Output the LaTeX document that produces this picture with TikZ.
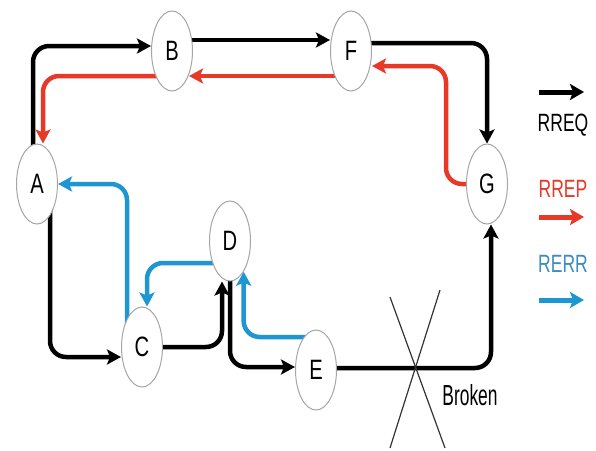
\documentclass[tikz,border=0pt]{standalone}
\usepackage{fontspec}
\setmainfont{Liberation Sans}
\usetikzlibrary{arrows.meta,shapes.geometric,calc}
\pgfdeclarelayer{bg}
\pgfsetlayers{bg,main}
\definecolor{rrep}{RGB}{232,56,40}
\definecolor{rerr}{RGB}{30,150,210}
\definecolor{rerrtxt}{RGB}{60,140,190}
\definecolor{nodeborder}{RGB}{165,165,165}
\newcommand{\sq}[2]{\scalebox{#1}[1]{#2}}
\begin{document}
\begin{tikzpicture}[x=1pt,y=-1pt,
  station/.style={ellipse, draw=nodeborder, line width=1pt, fill=white,
    minimum width=41pt, minimum height=80pt, inner sep=0pt,
    font=\fontsize{28}{30}\selectfont},
  link/.style={line width=4.5pt, rounded corners=16pt,
    -{Stealth[length=14pt,width=15pt,inset=3pt]}},
  req/.style={link, draw=black},
  rep/.style={link, draw=rrep},
  err/.style={link, draw=rerr},
  legarrow/.style={line width=5pt, -{Stealth[length=14pt,width=16pt,inset=3pt]}},
  legtxt/.style={inner sep=0pt, font=\fontsize{25}{27}\selectfont},
  crossline/.style={draw=black!80, line width=1.2pt}
]
\useasboundingbox (0,0) rectangle (596,450);

% stations
\node[station] (A) at (37,184) {\sq{0.72}{A}};
\node[station] (B) at (172,51) {\sq{0.72}{B}};
\node[station] (F) at (351,51) {\sq{0.72}{F}};
\node[station] (G) at (487,184) {\sq{0.72}{G}};
\node[station] (C) at (142,347) {\sq{0.72}{C}};
\node[station] (D) at (230,241) {\sq{0.72}{D}};
\node[station] (E) at (316,370) {\sq{0.72}{E}};

\begin{pgfonlayer}{bg}
% RREQ
\draw[req] ([xshift=-4pt]A.center) |- ([yshift=5pt]B.west);
\draw[req] ([yshift=11pt]B.center) -- ([yshift=11pt]F.west);
\draw[req] ([yshift=8pt]F.center) -| (G.north);
\draw[req] ([xshift=13pt]A.center) |- ([yshift=-10pt]C.west);
\draw[req] (C.center) -| ([xshift=-8pt]D.south);
\draw[req] (D.center) |- ([yshift=3pt]E.west);
\draw[req] ([yshift=2pt]E.center) -| ([xshift=4pt]G.south);
% RREP
\draw[rep] (G.center) -- ([xshift=-20pt]G.west) |- ([yshift=-15pt]F.east);
\draw[rep] ([yshift=-25pt]F.center) -- ([xshift=-4pt,yshift=-25pt]B.east);
\draw[rep] ([yshift=-25pt]B.center) -| ([xshift=6pt]A.north);
% RERR
\draw[err] ([xshift=-15pt]C.center) |- (A.east);
\draw[err] ([yshift=-22pt]D.center) -| ([xshift=5pt]C.north);
\draw[err] ([yshift=33pt]E.center) -| (D.-66);
\end{pgfonlayer}

% broken link
\coordinate (x1) at (390,297);
\coordinate (x2) at (445,448);
\coordinate (x3) at (440,290);
\coordinate (x4) at (390,448);
\draw[crossline] (x1) -- (x2);
\draw[crossline] (x3) -- (x4);
\node[inner sep=0pt, font=\fontsize{29}{31}\selectfont] (broken) at (470,395) {\sq{0.6}{Broken}};

% legend
\coordinate (l1a) at (539,92);
\coordinate (l1b) at (584,92);
\coordinate (l2a) at (539,217);
\coordinate (l2b) at (584,217);
\coordinate (l3a) at (539,300);
\coordinate (l3b) at (584,300);
\draw[legarrow, draw=black] (l1a) -- (l1b);
\draw[legarrow, draw=rrep] (l2a) -- (l2b);
\draw[legarrow, draw=rerr] (l3a) -- (l3b);
\node[legtxt] (reqtxt) at (563,125) {\sq{0.7}{RREQ}};
\node[legtxt, text=rrep] (reptxt) at (563,189) {\sq{0.7}{RREP}};
\node[legtxt, text=rerrtxt] (errtxt) at (563,264) {\sq{0.7}{RERR}};
\end{tikzpicture}
\end{document}
